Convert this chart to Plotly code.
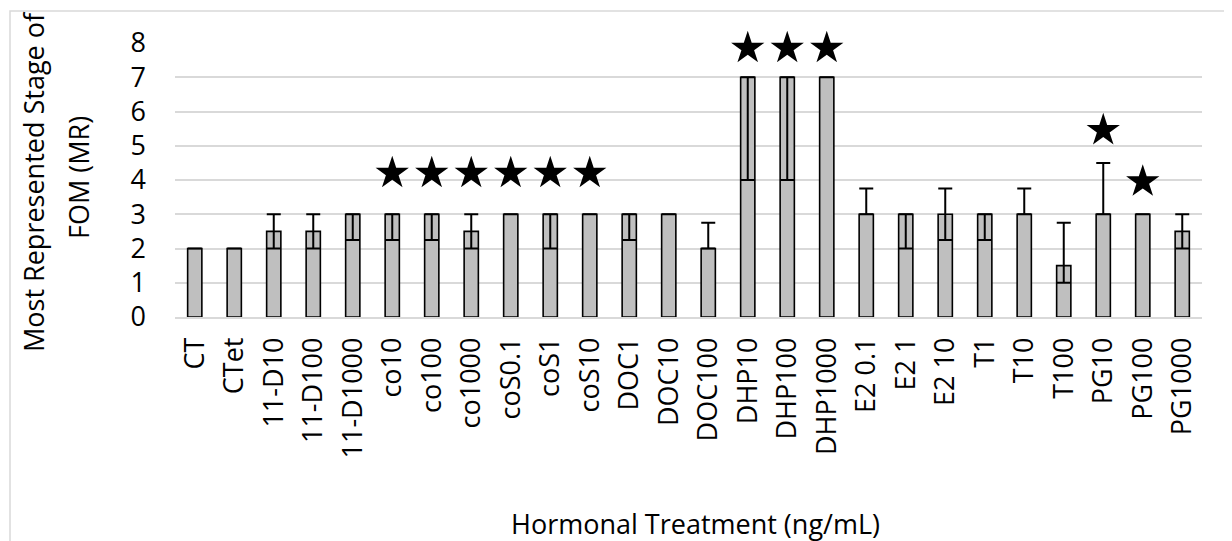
import plotly.graph_objects as go

categories = ["CT", "CTet", "11-D10", "11-D100", "11-D1000", "co10", "co100", "co1000",
              "coS0.1", "coS1", "coS10", "DOC1", "DOC10", "DOC100", "DHP10", "DHP100",
              "DHP1000", "E2 0.1", "E2 1", "E2 10", "T1", "T10", "T100", "PG10", "PG100", "PG1000"]
values = [2, 2, 2.5, 2.5, 3, 3, 3, 2.5, 3, 3, 3, 3, 3, 2, 7, 7, 7, 3, 3, 3, 3, 3, 1.5, 3, 3, 2.5]
err_plus = [0, 0, 0.5, 0.5, 0, 0, 0, 0.5, 0, 0, 0, 0, 0, 0.75, 0, 0, 0, 0.75, 0, 0.75, 0, 0.75, 1.25, 1.5, 0, 0.5]
err_minus = [0, 0, 0.5, 0.5, 0.75, 0.75, 0.75, 0.5, 0, 1, 0, 0.75, 0, 0, 3, 3, 0, 0, 1, 0.75, 0.75, 0, 0.5, 0, 0, 0.5]

star_cats = ["co10", "co100", "co1000", "coS0.1", "coS1", "coS10", "DHP10", "DHP100", "DHP1000", "PG10", "PG100"]
star_y = [4.2, 4.2, 4.2, 4.2, 4.2, 4.2, 7.85, 7.85, 7.85, 5.45, 3.95]

y_ticks = [0, 1, 2, 3, 4, 5, 6, 7, 8]

x_title = "Hormonal Treatment (ng/mL)"
y_title_1 = "Most Represented Stage of"
y_title_2 = "FOM (MR)"

# page body has an 8px margin: figure coordinates = screen coordinates - 8
OFF = 8
W, H = 1232 - OFF, 541 - OFF
L, R, T, B = 175 - OFF, 1202 - OFF, 43 - OFF, 317 - OFF  # plot area in figure pixels
pw, ph = R - L, B - T


def px(x):
    return (x - OFF - L) / pw


def py(y):
    return (B - (y - OFF)) / ph


FONT = "Open Sans"

fig = go.Figure()
fig.add_trace(go.Bar(
    x=categories, y=values,
    marker=dict(color="#bfbfbf", line=dict(color="black", width=1.6)),
    error_y=dict(type="data", symmetric=False, array=err_plus, arrayminus=err_minus,
                 color="black", thickness=2, width=7),
    showlegend=False,
))
fig.add_trace(go.Scatter(
    x=star_cats, y=star_y, mode="markers", cliponaxis=False,
    marker=dict(symbol="star", size=25, color="black", line=dict(width=0)),
    showlegend=False,
))

fig.update_layout(
    width=W, height=H,
    margin=dict(l=L, r=W - R, t=T, b=H - B, autoexpand=False),
    paper_bgcolor="white", plot_bgcolor="white",
    bargap=0.64,
    font=dict(family=FONT, color="black", size=25),
    xaxis=dict(type="category", tickangle=-90, tickfont=dict(size=27, family=FONT),
               showgrid=False, showline=True, linecolor="#d9d9d9", linewidth=1.5,
               ticks="", ticklabelstandoff=8, range=[-0.5, len(categories) - 0.5]),
    yaxis=dict(range=[0, 8], tickvals=y_ticks, tickfont=dict(size=27, family=FONT),
               showgrid=True, gridcolor="#d9d9d9", gridwidth=1.5, zeroline=False,
               showline=False, ticks="", ticklabelstandoff=28),
    shapes=[dict(type="rect", xref="paper", yref="paper",
                 x0=px(10), x1=px(1230), y0=py(620), y1=py(11),
                 line=dict(color="#d9d9d9", width=1.5), fillcolor="rgba(0,0,0,0)", layer="below")],
    annotations=[
        dict(text=x_title, xref="paper", yref="paper", x=px(695), y=py(523),
             xanchor="center", yanchor="middle", showarrow=False, font=dict(size=27, family=FONT)),
        dict(text=y_title_1, xref="paper", yref="paper", x=px(33), y=py(182), textangle=-90,
             xanchor="center", yanchor="middle", showarrow=False, font=dict(size=27, family=FONT)),
        dict(text=y_title_2, xref="paper", yref="paper", x=px(78), y=py(178), textangle=-90,
             xanchor="center", yanchor="middle", showarrow=False, font=dict(size=27, family=FONT)),
    ],
)

fig.write_html("out.html")
